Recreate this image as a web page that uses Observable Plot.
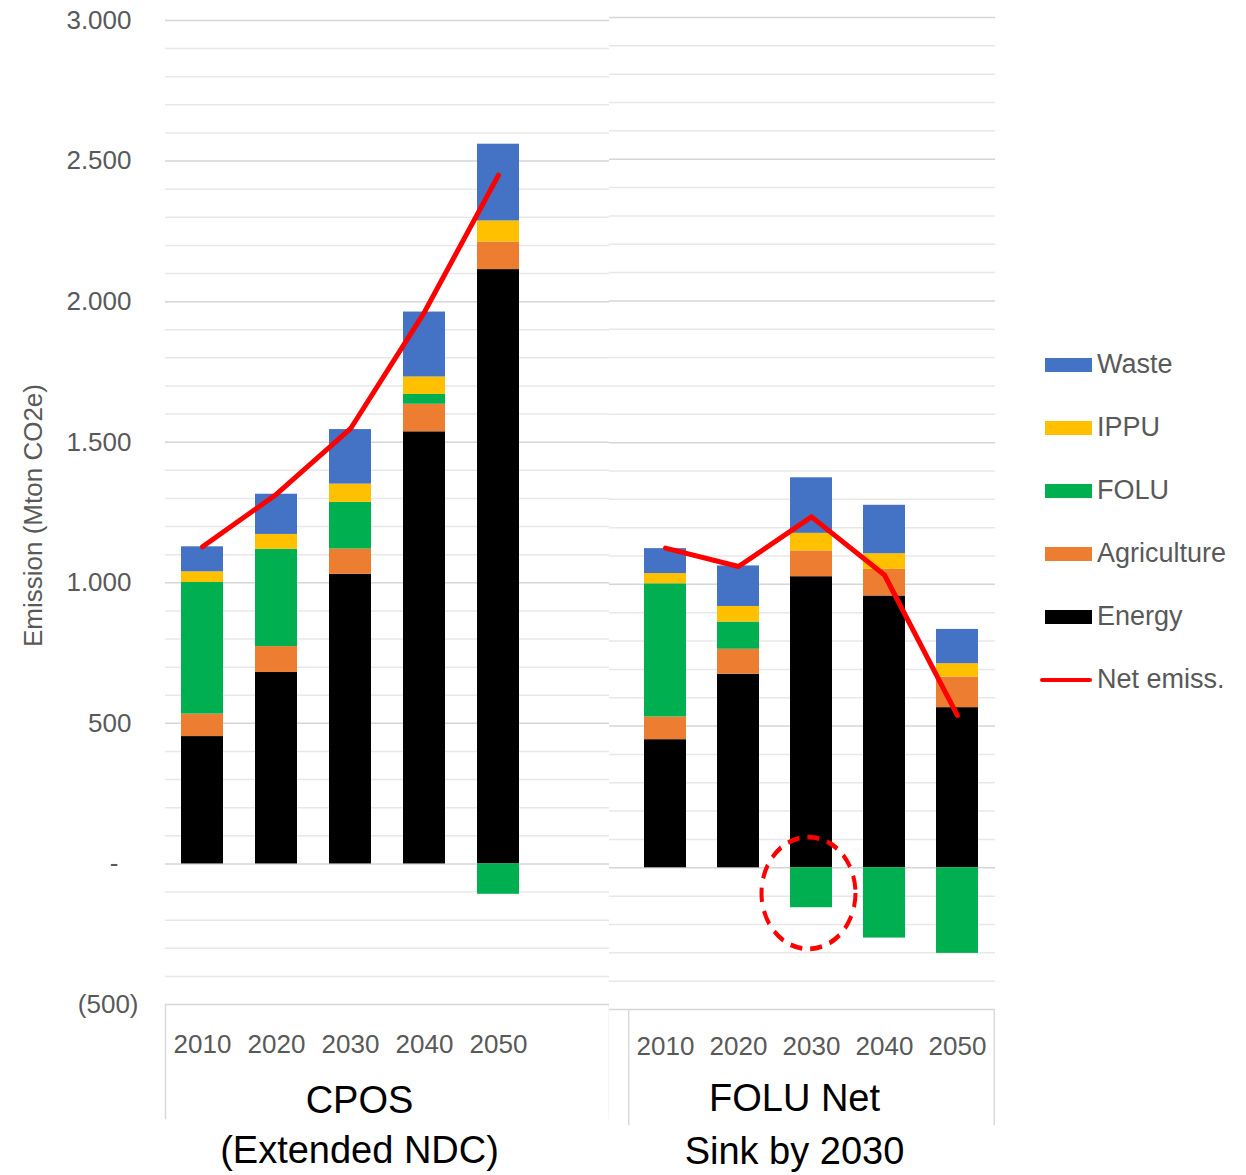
<!DOCTYPE html>
<html>
<head>
<meta charset="utf-8">
<script src="https://cdn.jsdelivr.net/npm/d3@7"></script>
<script src="https://cdn.jsdelivr.net/npm/@observablehq/plot@0.6"></script>
<style>
  body { margin: 0; background: #fff; }
  #wrap { position: relative; width: 1246px; height: 1175px; overflow: hidden; }
  #charts { display: flex; position: absolute; left: 0; top: 0; }
  #charts svg { display: block; }
  #legend { position: absolute; left: 1040px; top: 333px; font-family: "Liberation Sans", Arial, sans-serif; font-size: 27px; color: #595959; }
  .row { display: flex; align-items: center; height: 63px; }
  .sw { width: 47px; height: 14px; margin-left: 5px; margin-right: 5px; }
  .ln { width: 52px; height: 4px; border-radius: 2px; margin-right: 5px; background: #ff0000; }
</style>
</head>
<body>
<div id="wrap">
  <div id="charts"></div>
  <div id="legend"></div>
</div>
<script>
// ---- data (Mton CO2e) ----
const years = ["2010", "2020", "2030", "2040", "2050"];
const sectors = ["Energy", "Agriculture", "FOLU", "IPPU", "Waste"];
const sectorColors = ["#000000", "#ED7D31", "#00B050", "#FFC000", "#4472C4"];
const legendOrder = ["Waste", "IPPU", "FOLU", "Agriculture", "Energy"];

// Scenario 1: CPOS (Extended NDC)
const cposEnergy      = [453, 681, 1030, 1537, 2114];
const cposAgriculture = [80, 92, 90, 98, 98];
const cposFOLU        = [468, 346, 166, 35, -108];
const cposIPPU        = [38, 53, 65, 62, 75];
const cposWaste       = [89, 143, 194, 231, 273];
const cposNet         = [1128, 1315, 1548, 1963, 2450];

// Scenario 2: FOLU Net Sink by 2030
const foluEnergy      = [452, 683, 1027, 959, 565];
const foluAgriculture = [80, 88, 91, 94, 108];
const foluFOLU        = [470, 96, -141, -248, -302];
const foluIPPU        = [36, 55, 62, 55, 47];
const foluWaste       = [88, 143, 196, 171, 121];
const foluNet         = [1128, 1063, 1238, 1033, 537];

const groupLabels = ["CPOS\n(Extended NDC)", "FOLU Net\nSink by 2030"];
const yTicks      = [3000, 2500, 2000, 1500, 1000, 500, 0, -500];
const yTickLabels = ["3.000", "2.500", "2.000", "1.500", "1.000", "500", "-", "(500)"];
const yTitle = "Emission (Mton CO2e)";
const netLabel = "Net emiss.";
const highlight = {year: "2030", value: -89};

// ---- helpers ----
function stackRows(series) {
  const rows = [];
  years.forEach((yr, i) => sectors.forEach((s, j) => rows.push({year: yr, sector: s, value: series[j][i]})));
  return rows;
}
function lineRows(net) { return years.map((yr, i) => ({year: yr, value: net[i]})); }

const cposRows = stackRows([cposEnergy, cposAgriculture, cposFOLU, cposIPPU, cposWaste]);
const foluRows = stackRows([foluEnergy, foluAgriculture, foluFOLU, foluIPPU, foluWaste]);
const minorTicks = d3.range(-500, 3001, 100).filter(v => v % 500 !== 0);
const tickRows = yTicks.map((v, i) => ({v, label: yTickLabels[i]}));

const font = "'Liberation Sans', Arial, sans-serif";
const gridMinor = "#e8e8e8", gridMajor = "#d6d6d6", boxColor = "#d9d9d9";
const BOX_BOTTOM = -910;

function commonMarks(rows, net) {
  return [
    Plot.ruleY(minorTicks, {y: d => d, stroke: gridMinor, strokeWidth: 1.5}),
    Plot.ruleY(yTicks, {y: d => d, stroke: gridMajor, strokeWidth: 1.5}),
    Plot.barY(rows, {x: "year", y: "value", fill: "sector"}),
    Plot.line(lineRows(net), {x: "year", y: "value", stroke: "#ff0000", strokeWidth: 5, strokeLinecap: "round", strokeLinejoin: "round"})
  ];
}

// ---- left chart (CPOS) ----
const leftStep = (609 - 165) / 6;
const left = Plot.plot({
  width: 609, height: 1175,
  marginTop: 20, marginBottom: 171, marginLeft: 165, marginRight: 0,
  x: {domain: [...years, " "], paddingInner: 0.43, paddingOuter: 0.215, axis: null},
  y: {domain: [-500, 3000], axis: null},
  color: {domain: sectors, range: sectorColors},
  style: {fontFamily: font, background: "transparent"},
  marks: [
    ...commonMarks(cposRows, cposNet),
    Plot.ruleX([years[0]], {x: d => d, y1: () => -500, y2: () => BOX_BOTTOM, dx: -leftStep / 2, stroke: boxColor, strokeWidth: 1.5}),
    Plot.ruleX([" "], {x: d => d, y1: () => -500, y2: () => BOX_BOTTOM, dx: leftStep / 2, stroke: boxColor, strokeWidth: 1.5}),
    Plot.text(tickRows.filter(d => d.v > 0), {y: "v", text: "label", frameAnchor: "left", textAnchor: "end", dx: -34, fontSize: 26, fontFamily: font, fill: "#595959"}),
    Plot.text(tickRows.filter(d => d.v === 0), {y: "v", text: "label", frameAnchor: "left", textAnchor: "end", dx: -47, fontSize: 26, fontFamily: font, fill: "#595959"}),
    Plot.text(tickRows.filter(d => d.v < 0), {y: "v", text: "label", frameAnchor: "left", textAnchor: "end", dx: -27, fontSize: 26, fontFamily: font, fill: "#595959"}),
    Plot.text([yTitle], {text: d => d, frameAnchor: "left", textAnchor: "middle", rotate: -90, dx: -132, dy: 3, fontSize: 26, fontFamily: font, fill: "#595959"}),
    Plot.text(years, {x: d => d, y: () => -500, text: d => d, dy: 40, fontSize: 26, fontFamily: font, fill: "#595959"}),
    Plot.text([groupLabels[0]], {x: () => years[2], y: () => -500, text: d => d, dx: 9, dy: 73, lineAnchor: "top", lineHeight: 1.32, fontSize: 38, fontFamily: font, fill: "#000"})
  ]
});

// ---- right chart (FOLU Net Sink) ----
const rightStep = (995 - 627) / 5;
const right = Plot.plot({
  width: 391, height: 1175,
  marginTop: 17, marginBottom: 166, marginLeft: 0, marginRight: 5,
  x: {domain: years, paddingInner: 0.43, paddingOuter: 0.215, insetLeft: 18, axis: null},
  y: {domain: [-500, 3000], axis: null},
  color: {domain: sectors, range: sectorColors},
  style: {fontFamily: font, background: "transparent", overflow: "visible"},
  marks: [
    ...commonMarks(foluRows, foluNet),
    Plot.ruleX([years[0]], {x: d => d, y1: () => -500, y2: () => BOX_BOTTOM, dx: -rightStep / 2, stroke: boxColor, strokeWidth: 1.5}),
    Plot.ruleX([years[4]], {x: d => d, y1: () => -500, y2: () => BOX_BOTTOM, dx: rightStep / 2, stroke: boxColor, strokeWidth: 1.5}),
    Plot.text(years, {x: d => d, y: () => -500, text: d => d, dy: 37, fontSize: 26, fontFamily: font, fill: "#595959"}),
    Plot.text([groupLabels[1]], {x: () => years[2], y: () => -500, text: d => d, dx: -17, dy: 64, lineAnchor: "top", lineHeight: 1.4, fontSize: 38, fontFamily: font, fill: "#000"}),
    Plot.dot([highlight], {x: "year", y: "value", r: 47, dx: -3, fill: "none", stroke: "#ff0000", strokeWidth: 4, strokeDasharray: "12,8"})
  ]
});

// stretch the highlight circle vertically into the ellipse seen in the reference
right.querySelectorAll("circle").forEach(c => {
  const cx = +c.getAttribute("cx"), cy = +c.getAttribute("cy");
  if (!isNaN(cx) && !isNaN(cy)) {
    c.setAttribute("transform", `translate(${cx},${cy}) scale(1,1.19) translate(${-cx},${-cy})`);
  }
});

const charts = document.getElementById("charts");
charts.appendChild(left);
charts.appendChild(right);

// ---- legend ----
const legend = document.getElementById("legend");
legendOrder.forEach(s => {
  const row = document.createElement("div");
  row.className = "row";
  const sw = document.createElement("div");
  sw.className = "sw";
  sw.style.background = sectorColors[sectors.indexOf(s)];
  const t = document.createElement("span");
  t.textContent = s;
  row.appendChild(sw); row.appendChild(t);
  legend.appendChild(row);
});
{
  const row = document.createElement("div");
  row.className = "row";
  const ln = document.createElement("div");
  ln.className = "ln";
  const t = document.createElement("span");
  t.textContent = netLabel;
  row.appendChild(ln); row.appendChild(t);
  legend.appendChild(row);
}
</script>
</body>
</html>
